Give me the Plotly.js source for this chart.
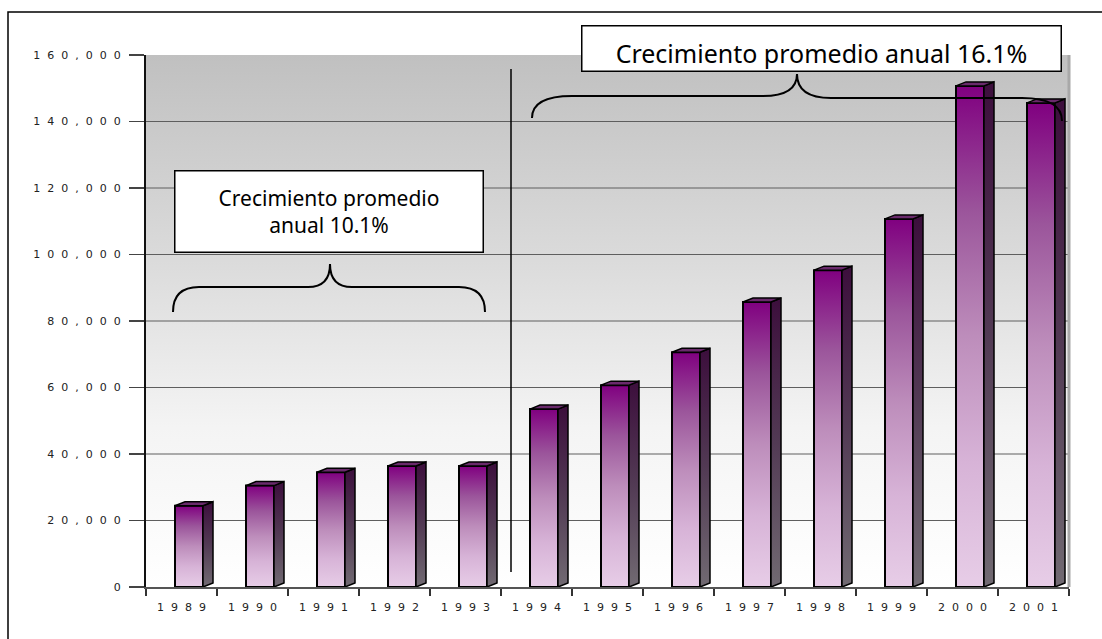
<!DOCTYPE html>
<html>
<head>
<meta charset="utf-8">
<script src="https://cdn.plot.ly/plotly-3.0.1.min.js"></script>
<style>html,body{margin:0;padding:0;background:#fff;}#chart{width:1102px;height:639px;}</style>
</head>
<body>
<div id="chart"></div>
<script>
// ---- data ----
const years = ['1989','1990','1991','1992','1993','1994','1995','1996','1997','1998','1999','2000','2001'];
const values = [24450, 30500, 34500, 36400, 36400, 53500, 60700, 70600, 85700, 95300, 110700, 150700, 145600];
const yTickVals = [0, 20000, 40000, 60000, 80000, 100000, 120000, 140000, 160000];
const yMax = 160000;
const noteLeft = 'Crecimiento promedio<br>anual 10.1%';
const noteRight = 'Crecimiento promedio anual 16.1%';

// ---- geometry helpers (plot area in px) ----
const PL = 146, PR = 1069, PT = 55, PB = 587;
const nCat = years.length;
const pxPerCat = (PR - PL) / nCat;
const pxPerUnit = (PB - PT) / yMax;
const px2x = p => (p - PL) / pxPerCat;
const py2y = p => (PB - p) / pxPerUnit;
const px2paper = p => (p - PL) / (PR - PL);
const py2paper = p => (PB - p) / (PB - PT);

const spaced = (s, sep) => s.split('').join(sep);
const yTickText = yTickVals.map(v => spaced(v.toLocaleString('en-US'), '\u00A0\u00A0'));
const xTickText = years.map(y => spaced(y, '\u00A0\u00A0'));
const xTickVals = years.map((_, i) => i + 0.5);

const traces = [];

// background wall with gradient
traces.push({
  type: 'scatter', mode: 'lines', hoverinfo: 'skip',
  x: [0, nCat, nCat, 0, 0], y: [0, 0, yMax, yMax, 0],
  fill: 'toself', line: {width: 0},
  fillgradient: {type: 'vertical', colorscale: [[0, '#ffffff'], [0.3, '#f4f4f4'], [0.6, '#dcdcdc'], [1, '#c0c0c0']]}
});

// gridlines
const gx = [], gy = [];
yTickVals.forEach(v => { if (v > 0 && v < yMax) { gx.push(0, nCat, null); gy.push(v, v, null); } });
traces.push({type: 'scatter', mode: 'lines', hoverinfo: 'skip', x: gx, y: gy, line: {color: '#5e5e5e', width: 1}});

// 3D bars
const fl = 29 / pxPerCat, fr = 57 / pxPerCat;   // front face offsets within category
const dx = 10 / pxPerCat, dy = 4 / pxPerUnit;   // depth
values.forEach((v, i) => {
  const xl = i + fl, xr = i + fr;
  traces.push({
    type: 'scatter', mode: 'lines', hoverinfo: 'skip',
    x: [xl, xr, xr, xl, xl], y: [0, 0, v, v, 0],
    fill: 'toself', line: {color: '#000', width: 2},
    fillgradient: {type: 'vertical', colorscale: [[0, '#e7cde7'], [0.25, '#d7b3d7'], [0.5, '#bd8dbb'], [0.75, '#9b559b'], [1, '#800080']]}
  });
  traces.push({
    type: 'scatter', mode: 'lines', hoverinfo: 'skip',
    x: [xr, xr + dx, xr + dx, xr, xr], y: [0, dy, v + dy, v, 0],
    fill: 'toself', line: {color: '#000', width: 1.5},
    fillgradient: {type: 'vertical', colorscale: [[0, '#716a72'], [0.5, '#523a54'], [1, '#3c0e3c']]}
  });
  traces.push({
    type: 'scatter', mode: 'lines', hoverinfo: 'skip',
    x: [xl, xr, xr + dx, xl + dx, xl], y: [v, v, v + dy, v + dy, v],
    fill: 'toself', fillcolor: '#6a2a6c', line: {color: '#000', width: 1.5}
  });
});

// brace path builder (pixel inputs -> data coords)
function brace(xl, xr, xm, yEndL, yEndR, yHL, yHR, yTip, rEnd, rMid) {
  const P = (a, b) => px2x(a).toFixed(4) + ',' + py2y(b).toFixed(1);
  return 'M' + P(xl, yEndL) +
    ' Q' + P(xl, yHL) + ' ' + P(xl + rEnd, yHL) +
    ' L' + P(xm - rMid, yHL) +
    ' Q' + P(xm, yHL) + ' ' + P(xm, yTip) +
    ' Q' + P(xm, yHR) + ' ' + P(xm + rMid, yHR) +
    ' L' + P(xr - rEnd, yHR) +
    ' Q' + P(xr, yHR) + ' ' + P(xr, yEndR);
}

const shapes = [
  {type: 'rect', xref: 'paper', yref: 'paper', x0: px2paper(8), x1: px2paper(1200), y0: py2paper(700), y1: py2paper(12),
   line: {color: '#000', width: 1.5}, fillcolor: 'rgba(0,0,0,0)', layer: 'below'},
  {type: 'line', xref: 'paper', yref: 'paper', x0: 1, x1: 1, y0: 0, y1: 1, line: {color: '#a8a8a8', width: 3}},
  {type: 'line', xref: 'x', yref: 'y', x0: px2x(511), x1: px2x(511), y0: py2y(572), y1: py2y(69), line: {color: '#000', width: 1.5}},
  {type: 'path', xref: 'x', yref: 'y', path: brace(173, 485, 330, 312, 312, 287, 287, 264, 26, 22), line: {color: '#000', width: 2}},
  {type: 'path', xref: 'x', yref: 'y', path: brace(532, 1062, 797, 118, 121, 96, 98, 74, 40, 34), line: {color: '#000', width: 2}}
];

const annotations = [
  {xref: 'paper', yref: 'paper', x: px2paper(328.5), y: py2paper(211), xanchor: 'center', yanchor: 'middle',
   text: noteLeft, showarrow: false, font: {family: 'Noto Sans', size: 21, color: '#000'},
   bgcolor: '#fff', bordercolor: '#000', borderwidth: 1.5, borderpad: 1, width: 305, height: 78, align: 'center'},
  {xref: 'paper', yref: 'paper', x: px2paper(821), y: py2paper(48), xanchor: 'center', yanchor: 'middle',
   text: noteRight, showarrow: false, font: {family: 'Noto Sans', size: 25, color: '#000'},
   bgcolor: '#fff', bordercolor: '#000', borderwidth: 1.5, borderpad: 1, width: 476, height: 42, align: 'center', valign: 'bottom'}
];

const layout = {
  width: 1102, height: 639,
  margin: {l: PL, r: 1102 - PR, t: PT, b: 639 - PB, pad: 0},
  paper_bgcolor: '#fff', plot_bgcolor: 'rgba(0,0,0,0)',
  showlegend: false,
  font: {family: 'DejaVu Sans', size: 11, color: '#222'},
  xaxis: {
    range: [0, nCat], tickmode: 'array', tickvals: xTickVals, ticktext: xTickText,
    ticks: '', showgrid: false, zeroline: false, showline: true, linecolor: '#555', linewidth: 2,
    minor: {tickmode: 'linear', tick0: 0, dtick: 1, ticks: 'outside', ticklen: 7, tickcolor: '#333', tickwidth: 1.5, showgrid: false},
    tickfont: {family: 'DejaVu Sans', size: 11, color: '#222'}, ticklabelstandoff: 9, fixedrange: true
  },
  yaxis: {
    range: [0, yMax], tickmode: 'array', tickvals: yTickVals, ticktext: yTickText,
    ticks: 'outside', ticklen: 15, tickcolor: '#444', tickwidth: 1.5,
    showgrid: false, zeroline: false, showline: true, linecolor: '#111', linewidth: 2,
    tickfont: {family: 'DejaVu Sans', size: 11, color: '#222'}, ticklabelstandoff: 6, fixedrange: true
  },
  shapes: shapes,
  annotations: annotations
};

Plotly.newPlot('chart', traces, layout, {staticPlot: true, displayModeBar: false});
</script>
</body>
</html>
